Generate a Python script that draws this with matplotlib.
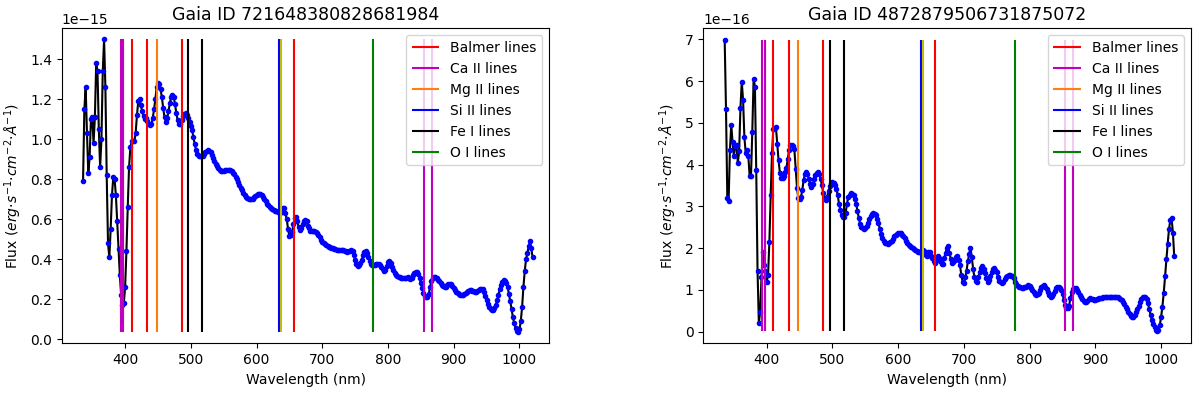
import numpy as np
import matplotlib
matplotlib.use("Agg")
import matplotlib.pyplot as plt

# Sampling grid of the Gaia XP spectra (nm)
wavelength = np.arange(336, 1021, 2)

titles = ["Gaia ID 721648380828681984", "Gaia ID 4872879506731875072"]
scales = [1e-15, 1e-16]

# Flux of star 1, units of 1e-15 erg/s/cm2/A (rows of 10, first wavelength in comment)
flux1 = [
    0.79, 1.15, 1.26, 1.03, 0.83, 0.91, 1.10, 1.11, 0.98, 1.11,        # 336
    1.38, 1.34, 1.05, 0.86, 1.00, 1.34, 1.50, 1.26, 0.82, 0.48,        # 356
    0.41, 0.55, 0.72, 0.81, 0.80, 0.72, 0.59, 0.45, 0.32, 0.22,        # 376
    0.17, 0.18, 0.26, 0.44, 0.66, 0.86, 0.96, 0.99, 0.99, 0.99,        # 396
    1.03, 1.12, 1.19, 1.20, 1.17, 1.14, 1.115, 1.10, 1.105, 1.09,      # 416
    1.077, 1.07, 1.075, 1.105, 1.15, 1.20, 1.26, 1.283, 1.278, 1.25,   # 436
    1.21, 1.155, 1.11, 1.088, 1.105, 1.14, 1.18, 1.21, 1.22, 1.21,     # 456
    1.175, 1.13, 1.095, 1.077, 1.077, 1.095, 1.115, 1.128, 1.13, 1.12, # 476
    1.105, 1.088, 1.065, 1.045, 1.01, 0.975, 0.947, 0.928, 0.918, 0.915,  # 496
    0.915, 0.918, 0.925, 0.935, 0.942, 0.945, 0.943, 0.938, 0.922, 0.905, # 516
    0.89, 0.878, 0.866, 0.856, 0.849, 0.844, 0.843, 0.844, 0.845, 0.846,  # 536
    0.846, 0.846, 0.845, 0.84, 0.834, 0.825, 0.812, 0.80, 0.786, 0.77,    # 556
    0.758, 0.745, 0.732, 0.72, 0.712, 0.706, 0.703, 0.701, 0.701, 0.704,  # 576
    0.71, 0.717, 0.722, 0.726, 0.728, 0.727, 0.72, 0.71, 0.70, 0.69,      # 596
    0.678, 0.67, 0.663, 0.658, 0.654, 0.648, 0.643, 0.64, 0.637, 0.635,   # 616
    0.634, 0.642, 0.655, 0.657, 0.63, 0.60, 0.55, 0.515, 0.52, 0.535,     # 636
    0.575, 0.607, 0.614, 0.59, 0.56, 0.545, 0.555, 0.575, 0.59, 0.597,    # 656
    0.59, 0.568, 0.555, 0.54, 0.54, 0.541, 0.542, 0.537, 0.53, 0.522,     # 676
    0.51, 0.498, 0.488, 0.48, 0.475, 0.472, 0.466, 0.462, 0.46, 0.457,    # 696
    0.455, 0.453, 0.451, 0.449, 0.448, 0.448, 0.449, 0.448, 0.446, 0.443, # 716
    0.44, 0.439, 0.44, 0.443, 0.446, 0.44, 0.42, 0.395, 0.375, 0.366,     # 736
    0.37, 0.382, 0.398, 0.42, 0.437, 0.443, 0.43, 0.41, 0.39, 0.377,      # 756
    0.372, 0.37, 0.372, 0.376, 0.378, 0.376, 0.37, 0.36, 0.35, 0.342,     # 776
    0.345, 0.365, 0.385, 0.39, 0.38, 0.362, 0.346, 0.332, 0.322, 0.315,   # 796
    0.312, 0.31, 0.307, 0.305, 0.305, 0.306, 0.308, 0.31, 0.306, 0.303,   # 816
    0.308, 0.32, 0.332, 0.338, 0.336, 0.325, 0.305, 0.28, 0.255, 0.232,   # 836
    0.215, 0.21, 0.212, 0.228, 0.26, 0.29, 0.305, 0.312, 0.313, 0.307,    # 856
    0.298, 0.29, 0.282, 0.274, 0.267, 0.263, 0.264, 0.27, 0.277, 0.279,   # 876
    0.275, 0.266, 0.255, 0.245, 0.236, 0.23, 0.226, 0.223, 0.221, 0.222,  # 896
    0.226, 0.232, 0.237, 0.242, 0.245, 0.246, 0.244, 0.24, 0.237, 0.237,  # 916
    0.241, 0.247, 0.252, 0.254, 0.25, 0.235, 0.215, 0.195, 0.177, 0.162,  # 936
    0.152, 0.147, 0.146, 0.155, 0.172, 0.195, 0.222, 0.25, 0.272, 0.288,  # 956
    0.296, 0.292, 0.28, 0.26, 0.228, 0.19, 0.15, 0.112, 0.08, 0.057,      # 976
    0.042, 0.037, 0.05, 0.09, 0.16, 0.26, 0.34, 0.40, 0.43, 0.465,        # 996
    0.49, 0.455, 0.41,                                                    # 1016
]

# Flux of star 2, units of 1e-16 erg/s/cm2/A
flux2 = [
    6.98, 5.34, 3.20, 3.14, 4.36, 4.96, 4.53, 4.20, 4.44, 4.46,  # 336
    4.04, 4.32, 5.36, 5.99, 5.54, 4.65, 4.28, 4.36, 4.20, 3.72,  # 356
    3.72, 4.78, 6.06, 5.87, 3.88, 1.45, 0.21, 0.47, 1.30, 1.90,  # 376
    1.60, 1.45, 1.20, 1.36, 2.15, 3.26, 4.27, 4.85, 4.88, 4.89,  # 396
    4.50, 4.10, 3.80, 3.68, 3.69, 3.73, 3.83, 3.93, 4.13, 4.35,  # 416
    4.47, 4.48, 4.45, 4.37, 3.90, 3.45, 3.19, 3.18, 3.22, 3.38,  # 436
    3.62, 3.77, 3.83, 3.78, 3.66, 3.53, 3.47, 3.53, 3.66, 3.76,  # 456
    3.81, 3.83, 3.78, 3.66, 3.50, 3.31, 3.17, 3.16, 3.22, 3.36,  # 476
    3.49, 3.57, 3.59, 3.55, 3.50, 3.42, 3.27, 3.05, 2.92, 2.80,  # 496
    2.75, 2.74, 2.84, 3.05, 3.22, 3.28, 3.31, 3.30, 3.27, 3.18,  # 516
    3.06, 2.90, 2.72, 2.58, 2.50, 2.47, 2.46, 2.48, 2.54, 2.61,  # 536
    2.69, 2.76, 2.81, 2.83, 2.82, 2.79, 2.70, 2.60, 2.46, 2.34,  # 556
    2.24, 2.17, 2.13, 2.12, 2.11, 2.12, 2.15, 2.18, 2.22, 2.28,  # 576
    2.32, 2.34, 2.36, 2.36, 2.35, 2.32, 2.28, 2.24, 2.18, 2.12,  # 596
    2.08, 2.05, 2.02, 2.00, 1.98, 1.96, 1.93, 1.91, 1.90, 1.92,  # 616
    1.93, 1.95, 1.94, 1.84, 1.82, 1.90, 1.90, 1.82, 1.76, 1.68,  # 636
    1.64, 1.72, 1.80, 1.76, 1.70, 1.62, 1.62, 1.76, 1.88, 2.00,  # 656
    2.04, 1.88, 1.74, 1.65, 1.66, 1.72, 1.78, 1.80, 1.72, 1.60,  # 676
    1.35, 1.20, 1.16, 1.30, 1.46, 1.68, 1.86, 2.00, 1.78, 1.50,  # 696
    1.30, 1.22, 1.20, 1.30, 1.42, 1.52, 1.56, 1.50, 1.40, 1.28,  # 716
    1.20, 1.24, 1.32, 1.42, 1.50, 1.52, 1.48, 1.42, 1.30, 1.22,  # 736
    1.18, 1.16, 1.20, 1.25, 1.30, 1.34, 1.36, 1.35, 1.33, 1.32,  # 756
    1.28, 1.20, 1.14, 1.10, 1.08, 1.06, 1.04, 1.04, 1.06, 1.08,  # 776
    1.10, 1.12, 1.10, 1.05, 1.00, 0.94, 0.89, 0.88, 0.90, 0.93,  # 796
    1.00, 1.06, 1.10, 1.12, 1.08, 1.02, 0.95, 0.88, 0.84, 0.86,  # 816
    0.91, 0.98, 1.05, 1.08, 1.07, 1.05, 1.00, 0.90, 0.76, 0.64,  # 836
    0.57, 0.56, 0.62, 0.80, 0.95, 1.03, 1.05, 1.04, 1.00, 0.94,  # 856
    0.88, 0.82, 0.77, 0.74, 0.72, 0.72, 0.74, 0.77, 0.80, 0.79,  # 876
    0.77, 0.76, 0.76, 0.77, 0.79, 0.80, 0.80, 0.81, 0.82, 0.83,  # 896
    0.84, 0.84, 0.84, 0.84, 0.84, 0.84, 0.84, 0.84, 0.84, 0.83,  # 916
    0.81, 0.79, 0.76, 0.72, 0.66, 0.60, 0.53, 0.46, 0.41, 0.38,  # 936
    0.36, 0.36, 0.40, 0.46, 0.54, 0.62, 0.70, 0.77, 0.82, 0.84,  # 956
    0.82, 0.77, 0.68, 0.54, 0.40, 0.28, 0.18, 0.10, 0.04, 0.01,  # 976
    0.03, 0.15, 0.35, 0.60, 0.92, 1.32, 1.75, 2.10, 2.45, 2.67,  # 996
    2.71, 2.36, 1.80,                                            # 1016
]

# Spectral line positions (nm)
balmer_lines = [656.3, 486.1, 434.0, 410.2, 397.0]
caii_lines = [393.4, 396.8, 854.2, 866.2]
mgii_lines = [448.1]
sii_lines = [634.7]
sii_extra_lines = [637.1]
fei_lines = [495.7, 516.9]
oi_lines = [777.4]

DPI = 100
fig = plt.figure(figsize=(12, 3.94), dpi=DPI)
positions = [[0.0514, 0.1287, 0.4064, 0.7990], [0.5861, 0.1287, 0.4064, 0.7990]]
ylims = [(-0.02e-15, 1.555e-15), (-0.28e-16, 7.26e-16)]

for pos, flux, scale, title, ylim in zip(positions, [flux1, flux2], scales, titles, ylims):
    ax = fig.add_axes(pos)
    y = np.array(flux) * scale
    ax.plot(wavelength, y, color="k", zorder=2)
    ax.plot(wavelength, y, "b.", ms=6, zorder=3)
    lo, hi = y.min(), y.max()
    ax.vlines(balmer_lines, lo, hi, colors="r", label="Balmer lines", zorder=4)
    ax.vlines(caii_lines, lo, hi, colors="m", label="Ca II lines", zorder=4)
    ax.vlines(mgii_lines, lo, hi, colors="tab:orange", label="Mg II lines", zorder=4)
    ax.vlines(sii_lines, lo, hi, colors="b", label="Si II lines", zorder=4)
    ax.vlines(sii_extra_lines, lo, hi, colors="y", zorder=4)
    ax.vlines(fei_lines, lo, hi, colors="k", label="Fe I lines", zorder=4)
    ax.vlines(oi_lines, lo, hi, colors="g", label="O I lines", zorder=4)
    ax.set_xlim(303.5, 1045.5)
    ax.set_ylim(*ylim)
    ax.set_title(title, fontsize=12.5)
    ax.set_xlabel("Wavelength (nm)")
    ax.set_ylabel(r"Flux ($erg{\cdot}s^{-1}{\cdot}cm^{-2}{\cdot}\AA^{-1}$)")
    ax.legend(loc="upper right")

fig.savefig("out.png", dpi=DPI)
